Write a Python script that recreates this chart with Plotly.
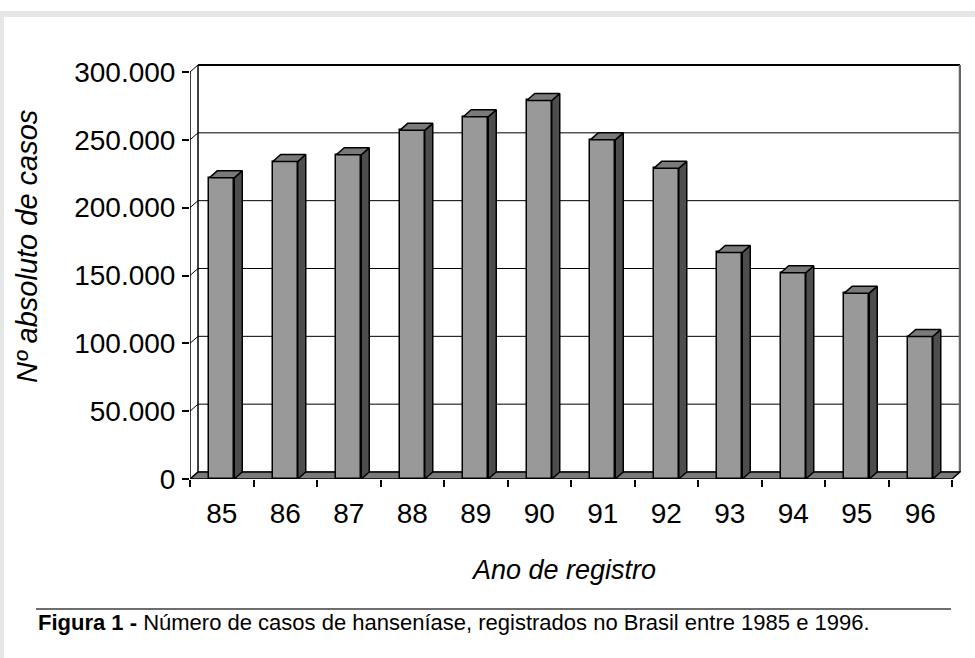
import plotly.graph_objects as go

# ---------------- data ----------------
anos = ["85", "86", "87", "88", "89", "90", "91", "92", "93", "94", "95", "96"]
casos = [222000, 234000, 239000, 257000, 267000, 279000, 250000, 229000, 167000, 152000, 137000, 105000]
y_ticks = [0, 50000, 100000, 150000, 200000, 250000, 300000]
y_tick_labels = ["0", "50.000", "100.000", "150.000", "200.000", "250.000", "300.000"]
titulo_y = "Nº absoluto de casos"
titulo_x = "Ano de registro"
legenda_fig = "<b>Figura 1 -</b> Número de casos de hanseníase, registrados no Brasil entre 1985 e 1996."

# ---------------- geometry (pixels) ----------------
FIG_W, FIG_H = 975, 658
L, R, T, B = 190, 14, 64, 179
PLOT_W = FIG_W - L - R
PLOT_H = FIG_H - T - B
DEPTH_X_PX, DEPTH_Y_PX = 8, 7
YMAX = y_ticks[-1]
n = len(anos)

ux = n / (PLOT_W - DEPTH_X_PX - 1)        # data units per px on x
uy = YMAX / (PLOT_H - DEPTH_Y_PX - 1)     # data units per px on y
DX = DEPTH_X_PX * ux
DY = DEPTH_Y_PX * uy
x_lo, x_hi = -0.5, n - 0.5
BW = 25 * ux

xs = list(range(n))


def px_x(p):
    return (p - L) / PLOT_W


def px_y(p):
    return (FIG_H - B - p) / PLOT_H


FONT = "Liberation Sans, Arial, Helvetica, sans-serif"

fig = go.Figure()

# front faces
fig.add_trace(go.Bar(
    x=xs, y=casos, width=BW, base=0,
    marker=dict(color="#999999", line=dict(color="black", width=1.5)),
    hoverinfo="skip", showlegend=False, xaxis="x", yaxis="y"))

# side faces and top faces
sx, sy, tx, ty = [], [], [], []
for i, v in zip(xs, casos):
    r_ = i + BW / 2
    l_ = i - BW / 2
    sx += [r_, r_ + DX, r_ + DX, r_, r_, None]
    sy += [0, DY, v + DY, v, 0, None]
    tx += [l_, l_ + DX, r_ + DX, r_, l_, None]
    ty += [v, v + DY, v + DY, v, v, None]
fig.add_trace(go.Scatter(x=sx, y=sy, mode="lines", fill="toself", fillcolor="#4d4d4d",
                         line=dict(color="black", width=1.5), hoverinfo="skip", showlegend=False))
fig.add_trace(go.Scatter(x=tx, y=ty, mode="lines", fill="toself", fillcolor="#7a7a7a",
                         line=dict(color="black", width=1.5), hoverinfo="skip", showlegend=False))

shapes = []
# back wall gridlines and side-wall diagonals
for v in y_ticks:
    shapes.append(dict(type="line", xref="x", yref="y", layer="below",
                       x0=x_lo + DX, x1=x_hi + DX, y0=v + DY, y1=v + DY,
                       line=dict(color="black", width=2 if v == YMAX else 1)))
    shapes.append(dict(type="line", xref="x", yref="y", layer="below",
                       x0=x_lo, x1=x_lo + DX, y0=v, y1=v + DY,
                       line=dict(color="black", width=1)))
# back wall left and right edges
shapes.append(dict(type="line", xref="x", yref="y", layer="below",
                   x0=x_lo + DX, x1=x_lo + DX, y0=DY, y1=YMAX + DY,
                   line=dict(color="black", width=1.5)))
shapes.append(dict(type="line", xref="x", yref="y", layer="below",
                   x0=x_hi + DX, x1=x_hi + DX, y0=DY, y1=YMAX + DY,
                   line=dict(color="#666666", width=2.5)))
# front axis line
shapes.append(dict(type="line", xref="x", yref="y", layer="below",
                   x0=x_lo, x1=x_lo, y0=0, y1=YMAX,
                   line=dict(color="black", width=1.5)))
# floor
shapes.append(dict(type="path", xref="x", yref="y", layer="below",
                   path=f"M {x_lo},0 L {x_lo + DX},{DY} L {x_hi + DX},{DY} L {x_hi},0 Z",
                   fillcolor="#7a7a7a", line=dict(color="black", width=1.5)))
# frame (light gray band top + left)
shapes.append(dict(type="rect", xref="paper", yref="paper", layer="below",
                   x0=px_x(0), x1=px_x(FIG_W), y0=px_y(17), y1=px_y(11),
                   fillcolor="#e6e6e6", line=dict(width=0)))
shapes.append(dict(type="rect", xref="paper", yref="paper", layer="below",
                   x0=px_x(0), x1=px_x(4), y0=px_y(FIG_H), y1=px_y(11),
                   fillcolor="#e6e6e6", line=dict(width=0)))
# caption rule
shapes.append(dict(type="line", xref="paper", yref="paper",
                   x0=px_x(36), x1=px_x(951), y0=px_y(609), y1=px_y(609),
                   line=dict(color="#6e6e6e", width=2)))

annotations = [
    dict(text=f"<i>{titulo_y}</i>", xref="paper", yref="paper", x=px_x(27), y=px_y(247),
         textangle=-90, showarrow=False, xanchor="center", yanchor="middle",
         font=dict(family=FONT, size=29, color="black")),
    dict(text=f"<i>{titulo_x}</i>", xref="paper", yref="paper", x=px_x(563), y=px_y(570),
         showarrow=False, xanchor="center", yanchor="middle",
         font=dict(family=FONT, size=27, color="black")),
    dict(text=legenda_fig, xref="paper", yref="paper", x=px_x(36), y=px_y(622),
         showarrow=False, xanchor="left", yanchor="middle",
         font=dict(family=FONT, size=22, color="black")),
]

fig.update_layout(
    width=FIG_W, height=FIG_H,
    margin=dict(l=L, r=R, t=T, b=B, pad=0),
    paper_bgcolor="white", plot_bgcolor="white",
    showlegend=False,
    bargap=0,
    shapes=shapes, annotations=annotations,
    xaxis=dict(range=[x_lo, x_hi + DX + ux], showgrid=False, zeroline=False, showline=False,
               tickmode="array", tickvals=[k - 0.5 for k in range(n + 1)],
               ticks="outside", ticklen=7, tickwidth=1.5, tickcolor="black",
               showticklabels=False, fixedrange=True),
    xaxis2=dict(range=[x_lo, x_hi + DX + ux], overlaying="x", side="bottom",
                showgrid=False, zeroline=False, showline=False,
                tickmode="array", tickvals=xs, ticktext=anos,
                ticks="outside", ticklen=9, tickcolor="rgba(0,0,0,0)",
                tickfont=dict(family=FONT, size=28, color="black"), fixedrange=True),
    yaxis=dict(range=[0, YMAX + DY + uy], showgrid=False, zeroline=False, showline=False,
               tickmode="array", tickvals=y_ticks, ticktext=y_tick_labels,
               ticks="outside", ticklen=7, tickwidth=1.5, tickcolor="black",
               ticklabelstandoff=1,
               tickfont=dict(family=FONT, size=28, color="black"), fixedrange=True),
)
# invisible trace that activates the label axis
fig.add_trace(go.Scatter(x=[0], y=[0], xaxis="x2", yaxis="y", mode="markers",
                         marker=dict(opacity=0), hoverinfo="skip", showlegend=False))

fig.write_html("out.html", config={"displayModeBar": False},
               post_script="document.body.style.margin='0px';")
